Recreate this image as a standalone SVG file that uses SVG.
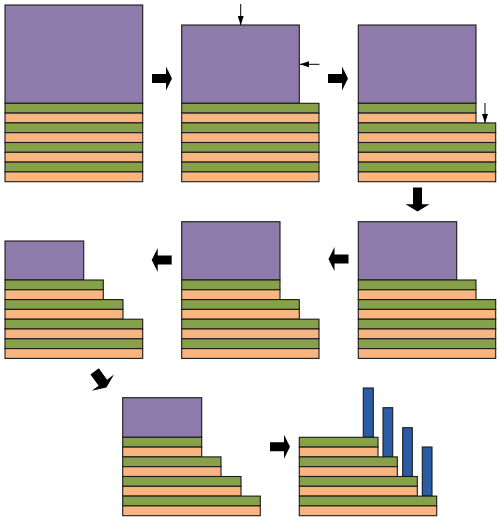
<svg xmlns="http://www.w3.org/2000/svg" width="500" height="520" viewBox="0 0 500 520">
<style>
.p,.g,.o,.b{stroke:#1a1a1a;stroke-width:1.1}
.p{fill:#8E7BAB}
.g{fill:#86A14A}
.o{fill:#F9B57F}
.b{fill:#2A5DA6}
.ar{fill:#000}
.thin{stroke:#000;stroke-width:1;fill:none}
</style>
<defs>
<path id="bigR" d="M-10,-4.5 H4 V-12 L10,0 L4,12 V4.5 H-10 Z"/>
<marker id="tip" markerUnits="userSpaceOnUse" markerWidth="9" markerHeight="6" refX="9" refY="3" orient="auto">
<path d="M0,0 L9,3 L0,6 Z" fill="#000"/>
</marker>
</defs>
<rect width="500" height="520" fill="#fff"/>

<g id="panel1">
<rect class="p" x="5" y="5" width="137.7" height="98.3"/>
<rect class="g" x="5" y="103.3" width="137.7" height="9.8"/>
<rect class="o" x="5" y="113.1" width="137.7" height="9.8"/>
<rect class="g" x="5" y="122.9" width="137.7" height="9.8"/>
<rect class="o" x="5" y="132.7" width="137.7" height="9.8"/>
<rect class="g" x="5" y="142.5" width="137.7" height="9.8"/>
<rect class="o" x="5" y="152.3" width="137.7" height="9.8"/>
<rect class="g" x="5" y="162.1" width="137.7" height="9.8"/>
<rect class="o" x="5" y="171.9" width="137.7" height="9.8"/>
</g>

<g id="panel2">
<rect class="p" x="181.7" y="25" width="117.6" height="78.3"/>
<rect class="g" x="181.7" y="103.3" width="137.3" height="9.8"/>
<rect class="o" x="181.7" y="113.1" width="137.3" height="9.8"/>
<rect class="g" x="181.7" y="122.9" width="137.3" height="9.8"/>
<rect class="o" x="181.7" y="132.7" width="137.3" height="9.8"/>
<rect class="g" x="181.7" y="142.5" width="137.3" height="9.8"/>
<rect class="o" x="181.7" y="152.3" width="137.3" height="9.8"/>
<rect class="g" x="181.7" y="162.1" width="137.3" height="9.8"/>
<rect class="o" x="181.7" y="171.9" width="137.3" height="9.8"/>
</g>

<g id="panel3">
<rect class="p" x="358.3" y="25" width="117.7" height="78.3"/>
<rect class="g" x="358.3" y="103.3" width="117.7" height="9.8"/>
<rect class="o" x="358.3" y="113.1" width="117.7" height="9.8"/>
<rect class="g" x="358.3" y="122.9" width="137.4" height="9.8"/>
<rect class="o" x="358.3" y="132.7" width="137.4" height="9.8"/>
<rect class="g" x="358.3" y="142.5" width="137.4" height="9.8"/>
<rect class="o" x="358.3" y="152.3" width="137.4" height="9.8"/>
<rect class="g" x="358.3" y="162.1" width="137.4" height="9.8"/>
<rect class="o" x="358.3" y="171.9" width="137.4" height="9.8"/>
</g>

<g id="panel6">
<rect class="p" x="358.3" y="221.7" width="98.4" height="58.3"/>
<rect class="g" x="358.3" y="280" width="117.7" height="9.8"/>
<rect class="o" x="358.3" y="289.8" width="117.7" height="9.8"/>
<rect class="g" x="358.3" y="299.6" width="137.4" height="9.8"/>
<rect class="o" x="358.3" y="309.4" width="137.4" height="9.8"/>
<rect class="g" x="358.3" y="319.2" width="137.4" height="9.8"/>
<rect class="o" x="358.3" y="329" width="137.4" height="9.8"/>
<rect class="g" x="358.3" y="338.8" width="137.4" height="9.8"/>
<rect class="o" x="358.3" y="348.6" width="137.4" height="9.8"/>
</g>

<g id="panel5">
<rect class="p" x="181.7" y="221.7" width="98.3" height="58.3"/>
<rect class="g" x="181.7" y="280" width="98.3" height="9.8"/>
<rect class="o" x="181.7" y="289.8" width="98.3" height="9.8"/>
<rect class="g" x="181.7" y="299.6" width="117.6" height="9.8"/>
<rect class="o" x="181.7" y="309.4" width="117.6" height="9.8"/>
<rect class="g" x="181.7" y="319.2" width="137.3" height="9.8"/>
<rect class="o" x="181.7" y="329" width="137.3" height="9.8"/>
<rect class="g" x="181.7" y="338.8" width="137.3" height="9.8"/>
<rect class="o" x="181.7" y="348.6" width="137.3" height="9.8"/>
</g>

<g id="panel4">
<rect class="p" x="5" y="241" width="78.7" height="39"/>
<rect class="g" x="5" y="280" width="98.3" height="9.8"/>
<rect class="o" x="5" y="289.8" width="98.3" height="9.8"/>
<rect class="g" x="5" y="299.6" width="118" height="9.8"/>
<rect class="o" x="5" y="309.4" width="118" height="9.8"/>
<rect class="g" x="5" y="319.2" width="137.7" height="9.8"/>
<rect class="o" x="5" y="329" width="137.7" height="9.8"/>
<rect class="g" x="5" y="338.8" width="137.7" height="9.8"/>
<rect class="o" x="5" y="348.6" width="137.7" height="9.8"/>
</g>

<g id="panel7">
<rect class="p" x="122.7" y="397.7" width="79" height="39.6"/>
<rect class="g" x="122.7" y="437.3" width="79" height="9.8"/>
<rect class="o" x="122.7" y="447.1" width="79" height="9.8"/>
<rect class="g" x="122.7" y="456.9" width="98.3" height="9.8"/>
<rect class="o" x="122.7" y="466.7" width="98.3" height="9.8"/>
<rect class="g" x="122.7" y="476.5" width="118.3" height="9.8"/>
<rect class="o" x="122.7" y="486.3" width="118.3" height="9.8"/>
<rect class="g" x="122.7" y="496.1" width="137.6" height="9.8"/>
<rect class="o" x="122.7" y="505.9" width="137.6" height="9.8"/>
</g>

<g id="panel8">
<rect class="b" x="363.3" y="388" width="10" height="49.3"/>
<rect class="b" x="383" y="407.7" width="9.7" height="49.2"/>
<rect class="b" x="402.7" y="427.7" width="9.6" height="48.8"/>
<rect class="b" x="422.3" y="447" width="9.7" height="49.1"/>
<rect class="g" x="299.3" y="437.3" width="78.7" height="9.8"/>
<rect class="o" x="299.3" y="447.1" width="78.7" height="9.8"/>
<rect class="g" x="299.3" y="456.9" width="98" height="9.8"/>
<rect class="o" x="299.3" y="466.7" width="98" height="9.8"/>
<rect class="g" x="299.3" y="476.5" width="118" height="9.8"/>
<rect class="o" x="299.3" y="486.3" width="118" height="9.8"/>
<rect class="g" x="299.3" y="496.1" width="137.4" height="9.8"/>
<rect class="o" x="299.3" y="505.9" width="137.4" height="9.8"/>
</g>

<g id="connectors">
<use href="#bigR" class="ar" transform="translate(162,78.5)"/>
<use href="#bigR" class="ar" transform="translate(338,78.5)"/>
<use href="#bigR" class="ar" transform="translate(417.5,199.5) rotate(90) scale(1.2,1)"/>
<use href="#bigR" class="ar" transform="translate(338.5,259) rotate(180)"/>
<use href="#bigR" class="ar" transform="translate(161.7,260) rotate(180)"/>
<use href="#bigR" class="ar" transform="translate(100.5,379.5) rotate(54) scale(1,1.15)"/>
<use href="#bigR" class="ar" transform="translate(280,446.7)"/>
<line class="thin" x1="240.7" y1="4" x2="240.7" y2="25" marker-end="url(#tip)"/>
<line class="thin" x1="319.5" y1="64.3" x2="300" y2="64.3" marker-end="url(#tip)"/>
<line class="thin" x1="485" y1="103" x2="485" y2="123" marker-end="url(#tip)"/>
</g>
</svg>
